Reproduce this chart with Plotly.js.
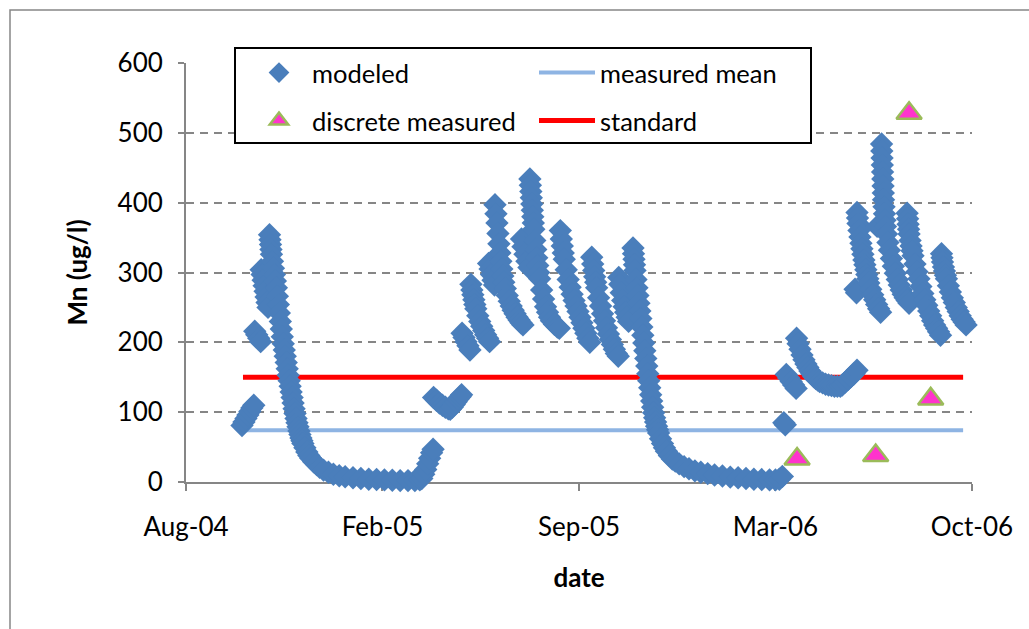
<!DOCTYPE html>
<html>
<head>
<meta charset="utf-8">
<script src="https://cdn.plot.ly/plotly-3.0.1.min.js"></script>
<style>
html,body{margin:0;padding:0;background:#ffffff;}
#chart{width:1029px;height:629px;}
</style>
</head>
<body>
<div id="chart"></div>
<script>
// ---- DATA ----
// modeled Mn: dates given as days since 2004-08-01 (model output is sub-daily in places)
const modeledDay = [
  57,59,61,63,65,67,69,
  70,72,74,76,
  76.5,77.5,78.5,79.5,80.5,81.5,82.5,83.5,
  85,85.5,86,86.5,87,88,89,90,91,92,93,94,95,96,97,98,99,100,101,102,103,104,105,106,107,108,109,110,111,112,113,114,115,116,117,118,119,121,123,125,127,130,133,136,140,145,150,156,162,170,178,186,194,202,210,218,226,233,238,
  240,242,244,246,248,250,251.5,
  252,255,258,261,264,267,269,271,273,275,277,279,280.5,
  281,283,285,287,289,
  290,291,292,293,294,295,297,299,301,303,305,307,309,
  308,309.5,311,312.5,314,
  314.5,315.5,316.5,317.5,318.5,319.5,320.5,321.5,322.5,323.5,325,327,329,331,333,335,337,339,341,343,
  341.5,343,345,347,349,
  350,350.5,351,351.5,352,352.5,353,353.5,354,355,356,357,358,359,360,362,364,366,368,370,372,375,378,380,
  381,382,383,384,385,387,389,391,393,395,397,399,401,403,405,407,409,411,
  413,414,415,416,417,418,420,422,424,426,428,430,432,434,436,438,440,
  440.5,441.5,443,444.5,446,447.5,449,450.5,
  455,455.5,456,456.5,457,458,459,460,461,462,463,464,465,466,467,468,469,470,471,472,473,474,475,476,477,478,479,480,481,483,485,487,489,492,495,498,502,507,512,518,524,531,538,546,554,562,570,578,586,594,600,604,607,
  608.5,610,
  611,613.5,616,618.5,621,
  621.5,623,625,627,629,631,633,635,637,639,641,643,645,648,651,654,657,660,663,666,668,671,674,677,680,683,
  681,682.5,
  683,683.5,684,685,686,687,688,689,690,691,692,693,694,695,697,699,701,703,705,707,
  703.5,
  708,708.25,708.5,708.75,709,709.25,709.5,709.75,710,710.5,711,711.5,712,713,714.5,716,718,720,722,724,726,728,730,732,734,736,
  734,734.5,735,735.5,736,737,738,739,740,742,744,746,748,750,752,754,756,758,760,762,764,766,768,
  769,769.5,770,771,772,773,774,776,778,780,782,784,786,788,790,792,794
];
const modeledMn = [
  81,86,91,96,101,106,110,
  216,211,206,201,
  304,297,289,281,273,265,257,250,
  354,347,340,333,326,316,306,297,288,278,266,254,242,230,219,208,198,189,180,171,162,153,145,137,129,121,113,105,98,91,85,79,73,68,63,59,55,49,43,38,34,29,25,21,17,14,11,9,7.5,6,5,4,3.5,3,2.5,2,2,2,3,
  5,11,18,26,34,42,47,
  121,117,113,110,107,105,104,107,111,115,119,122,125,
  213,207,201,195,189,
  283,275,268,261,254,248,238,230,223,217,211,206,201,
  313,305,297,289,282,
  397,384,371,356,341,328,316,305,295,286,277,267,259,252,246,241,236,232,228,225,
  348,337,326,316,307,
  434,425,416,407,398,389,380,371,362,346,333,321,310,300,291,275,262,251,243,236,231,226,222,220,
  360,348,338,328,319,304,290,279,269,260,252,244,236,228,220,213,206,200,
  322,312,303,294,286,278,264,252,241,231,221,212,204,197,190,184,180,
  293,283,271,260,251,243,236,230,
  335,327,319,311,303,290,278,267,256,245,234,222,210,199,188,177,166,155,145,135,125,116,107,99,92,86,80,75,70,62,55,49,44,38,33,30,26,22,19,16,14,12,10,8.5,7,6,5,4,3.5,3,3,4,8,
  85,82,
  154,149,144,139,134,
  206,198,190,182,175,169,164,159,155,151,148,146,144,142,140,139,138,137,137,137,139,143,147,151,155,160,
  276,271,
  386,378,370,360,351,342,334,326,318,311,304,297,291,285,276,268,261,254,248,243,
  366,
  484,474,464,454,444,434,424,414,404,394,384,375,366,355,343,332,320,309,299,290,282,275,269,264,260,256,
  385,377,369,362,355,346,338,331,324,312,301,291,280,270,261,253,245,238,231,225,220,215,210,
  327,321,315,308,302,296,291,281,272,264,257,250,244,238,233,229,225
];
const discreteDates = ['2006-04-15', '2006-07-04', '2006-08-07', '2006-08-29'];
const discreteMn = [33, 38, 528, 119];
const summaryLineDates = ['2004-09-28', '2006-10-01'];
const measuredMean = 74;
const standardMn = 150;
const xTickStart = '2004-08-01';
const xTickStepDays = 200;
const xRange = ['2004-08-01', '2006-10-10 01:00'];
const yRange = [0, 600];

// ---- BUILD ----
function dayToDate(d) {
  const t = Date.UTC(2004, 7, 1) + Math.round(d * 86400000);
  return new Date(t).toISOString().slice(0, 19).replace('T', ' ');
}
const FONT = 'Lato, "Open Sans", "DejaVu Sans", sans-serif';
const GRAY = '#868686';

// paper-coordinate helpers for decorative frame/legend box
const plotL = 186, plotR = 972, plotT = 63, plotB = 482;
const px = x => (x - plotL) / (plotR - plotL);
const py = y => (plotB - y) / (plotB - plotT);

const traces = [
  {
    type: 'scatter', mode: 'lines', name: 'measured mean',
    x: summaryLineDates, y: summaryLineDates.map(() => measuredMean),
    line: {color: '#8EB4E3', width: 4},
    legend: 'legend', legendrank: 2, hoverinfo: 'skip'
  },
  {
    type: 'scatter', mode: 'lines', name: 'standard',
    x: summaryLineDates, y: summaryLineDates.map(() => standardMn),
    line: {color: '#FF0000', width: 5},
    legend: 'legend2', legendrank: 2, hoverinfo: 'skip'
  },
  {
    type: 'scatter', mode: 'markers', name: 'modeled',
    x: modeledDay.map(dayToDate), y: modeledMn,
    marker: {symbol: 'diamond', size: 18, color: '#4A7EBB', line: {width: 0}},
    cliponaxis: false,
    legend: 'legend', legendrank: 1
  },
  {
    type: 'scatter', mode: 'markers', name: 'discrete measured',
    x: discreteDates, y: discreteMn,
    marker: {symbol: 'triangle-up', size: 22, color: '#FF33CC', line: {color: '#9BBB59', width: 2.5}},
    cliponaxis: false,
    legend: 'legend2', legendrank: 1
  }
];

const legendCommon = {
  orientation: 'h', xanchor: 'left', yanchor: 'middle',
  x: px(246), bgcolor: 'rgba(0,0,0,0)', borderwidth: 0,
  itemwidth: 56, entrywidth: 217, entrywidthmode: 'pixels',
  font: {family: FONT, size: 25.5, color: '#000'},
  traceorder: 'normal'
};

const layout = {
  width: 1029, height: 629,
  margin: {l: plotL, r: 1029 - plotR, t: plotT, b: 629 - plotB},
  paper_bgcolor: '#ffffff', plot_bgcolor: '#ffffff',
  font: {family: FONT, size: 26, color: '#000'},
  showlegend: true,
  legend: Object.assign({}, legendCommon, {y: py(73)}),
  legend2: Object.assign({}, legendCommon, {y: py(121)}),
  xaxis: {
    type: 'date', range: xRange,
    tick0: xTickStart, dtick: xTickStepDays * 86400000, tickformat: '%b-%y',
    ticks: 'outside', ticklen: 7, tickwidth: 2, tickcolor: GRAY,
    ticklabelstandoff: 14,
    showline: true, linecolor: GRAY, linewidth: 2,
    showgrid: false, zeroline: false, layer: 'below traces',
    tickfont: {family: FONT, size: 26, color: '#000'},
    title: {text: 'date', font: {family: FONT, size: 26, color: '#000', weight: 'bold'}, standoff: 28}
  },
  yaxis: {
    range: yRange, dtick: 100, tick0: 0,
    ticks: 'outside', ticklen: 6, tickwidth: 2, tickcolor: GRAY,
    ticklabelstandoff: 10,
    showline: true, linecolor: GRAY, linewidth: 2,
    showgrid: true, gridcolor: GRAY, gridwidth: 2, griddash: '8px,6px',
    zeroline: false, layer: 'below traces',
    tickfont: {family: FONT, size: 26, color: '#000'},
    title: {text: 'Mn (ug/l)', font: {family: FONT, size: 26, color: '#000', weight: 'bold'}, standoff: 22}
  },
  shapes: [
    {type: 'rect', xref: 'paper', yref: 'paper', layer: 'above',
     x0: px(10), x1: px(1045), y0: py(645), y1: py(10),
     line: {color: GRAY, width: 1.5}, fillcolor: 'rgba(0,0,0,0)'},
    {type: 'rect', xref: 'paper', yref: 'paper', layer: 'above',
     x0: px(235), x1: px(811), y0: py(143), y1: py(48),
     line: {color: '#000000', width: 2}, fillcolor: '#ffffff'}
  ]
};

Plotly.newPlot('chart', traces, layout, {displayModeBar: false, staticPlot: true});
</script>
</body>
</html>
